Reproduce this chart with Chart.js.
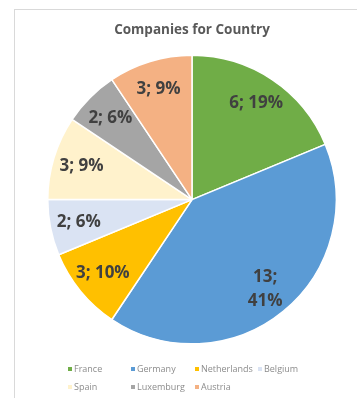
<!DOCTYPE html>
<html lang="en">
<head>
  <meta charset="UTF-8">
  <title>Companies for Country</title>
  <script src="https://cdn.jsdelivr.net/npm/chart.js"></script>
  <style>
    html, body {
      margin: 0;
      padding: 0;
      background: #fff;
    }
    #wrap {
      position: relative;
      width: 357px;
      height: 398px;
    }
    #frame {
      position: absolute;
      left: 14px;
      top: 9px;
      right: -2px;
      bottom: -2px;
      border: 1px solid #d9d9d9;
    }
    canvas {
      position: absolute;
      left: 0;
      top: 0;
    }
  </style>
</head>
<body>
  <div id="wrap">
    <div id="frame"></div>
    <canvas id="myChart" width="357" height="398"></canvas>
  </div>

  <script>
    const countries = ['France', 'Germany', 'Netherlands', 'Belgium', 'Spain', 'Luxemburg', 'Austria'];
    const companies = [6, 13, 3, 2, 3, 2, 3];
    // percentages as printed on the slices
    const percents = [19, 41, 10, 6, 9, 6, 9];
    const splitLabel = [false, true, false, false, false, false, false];
    const colors = ['#70ad47', '#5b9bd5', '#ffc000', '#dae3f3', '#fff2cc', '#a5a5a5', '#f4b183'];

    // slice labels "value; pct%"
    const sliceLabels = {
      id: 'sliceLabels',
      afterDatasetsDraw(chart) {
        const ctx = chart.ctx;
        const meta = chart.getDatasetMeta(0);
        ctx.save();
        ctx.font = 'bold 17px "Open Sans", sans-serif';
        ctx.fillStyle = '#404040';
        ctx.textAlign = 'center';
        ctx.textBaseline = 'middle';
        meta.data.forEach((arc, i) => {
          const p = arc.getProps(['x', 'y', 'startAngle', 'endAngle', 'outerRadius'], true);
          const mid = (p.startAngle + p.endAngle) / 2;
          const r = p.outerRadius * 0.8;
          const x = p.x + Math.cos(mid) * r;
          const y = p.y + Math.sin(mid) * r;
          if (splitLabel[i]) {
            ctx.fillText(companies[i] + ';', x, y - 12);
            ctx.fillText(percents[i] + '%', x, y + 12);
          } else {
            ctx.fillText(companies[i] + '; ' + percents[i] + '%', x, y);
          }
        });
        ctx.restore();
      }
    };

    // legend laid out on a grid like the original
    const gridLegend = {
      id: 'gridLegend',
      afterDraw(chart) {
        const ctx = chart.ctx;
        const cols = [70, 133, 197, 260];
        const rows = [369, 387];
        ctx.save();
        ctx.font = '9px "Open Sans", sans-serif';
        ctx.textBaseline = 'middle';
        ctx.textAlign = 'left';
        const order = [[0, 0], [1, 0], [2, 0], [3, 0], [0, 1], [1, 1], [2, 1]];
        chart.data.labels.forEach((lab, i) => {
          const x = cols[order[i][0]];
          const y = rows[order[i][1]];
          ctx.fillStyle = colors[i];
          ctx.fillRect(x - 2, y - 2, 4, 4);
          ctx.fillStyle = '#8c8c8c';
          ctx.fillText(lab, x + 4, y);
        });
        ctx.restore();
      }
    };

    const ctx = document.getElementById('myChart').getContext('2d');
    const chart = new Chart(ctx, {
      type: 'pie',
      data: {
        labels: countries,
        datasets: [{
          data: companies,
          backgroundColor: colors,
          borderColor: '#fff',
          borderWidth: 1.5
        }]
      },
      options: {
        responsive: false,
        animation: false,
        layout: {
          padding: { left: 47, right: 20, top: 0, bottom: 53 }
        },
        plugins: {
          legend: { display: false },
          tooltip: { enabled: false },
          title: {
            display: true,
            text: 'Companies for Country',
            color: '#595959',
            font: { family: '"Open Sans", sans-serif', size: 13.5, weight: 'bold' },
            padding: { top: 22, bottom: 16 }
          }
        }
      },
      plugins: [sliceLabels, gridLegend]
    });
  </script>
</body>
</html>
